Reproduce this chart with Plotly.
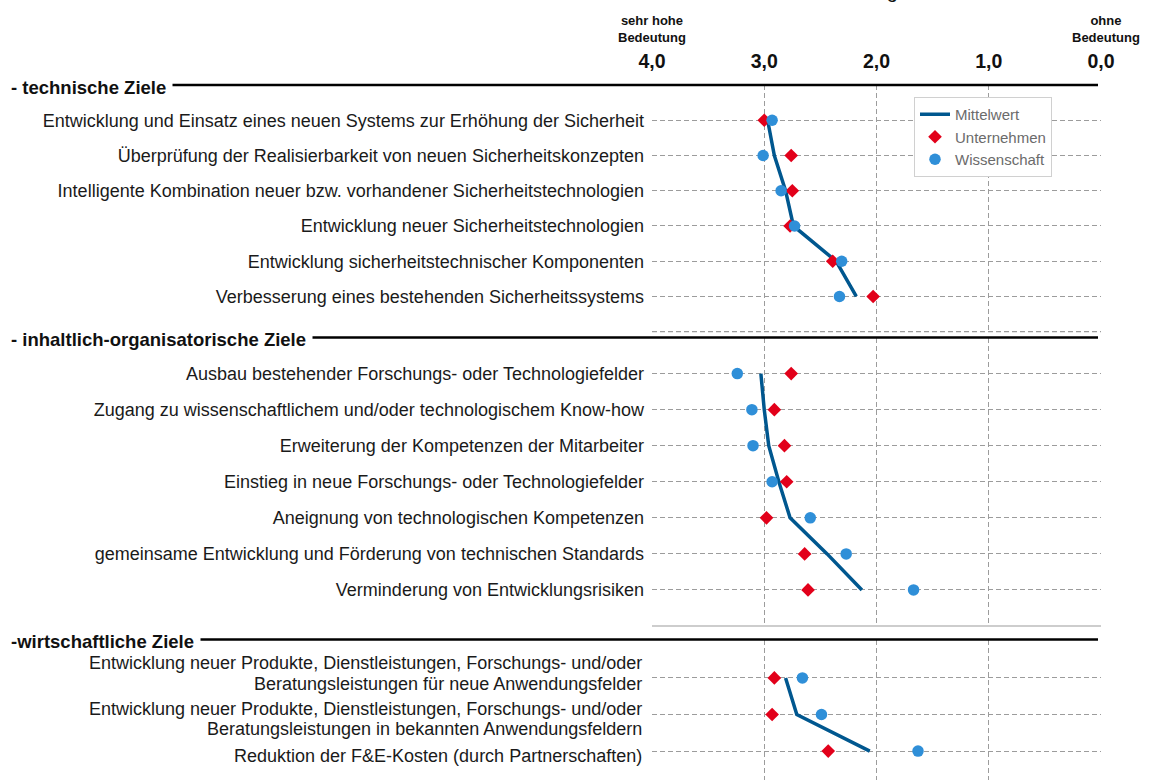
import plotly.graph_objects as go

W, H = 1149, 780
FONT = "Arial, 'Liberation Sans', sans-serif"

# ---------------- data ----------------
tech_labels = [
    "Entwicklung und Einsatz eines neuen Systems zur Erhöhung der Sicherheit",
    "Überprüfung der Realisierbarkeit von neuen Sicherheitskonzepten",
    "Intelligente Kombination neuer bzw. vorhandener Sicherheitstechnologien",
    "Entwicklung neuer Sicherheitstechnologien",
    "Entwicklung sicherheitstechnischer Komponenten",
    "Verbesserung eines bestehenden Sicherheitssystems",
]
tech_mittel = [2.97, 2.91, 2.81, 2.74, 2.36, 2.18]
tech_unternehmen = [3.00, 2.76, 2.75, 2.77, 2.39, 2.03]
tech_wissenschaft = [2.93, 3.01, 2.85, 2.73, 2.31, 2.33]

org_labels = [
    "Ausbau bestehender Forschungs- oder Technologiefelder",
    "Zugang zu wissenschaftlichem und/oder technologischem Know-how",
    "Erweiterung der Kompetenzen der Mitarbeiter",
    "Einstieg in neue Forschungs- oder Technologiefelder",
    "Aneignung von technologischen Kompetenzen",
    "gemeinsame Entwicklung und Förderung von technischen Standards",
    "Verminderung von Entwicklungsrisiken",
]
org_mittel = [3.03, 3.00, 2.96, 2.87, 2.77, 2.44, 2.13]
org_unternehmen = [2.76, 2.91, 2.82, 2.80, 2.98, 2.64, 2.61]
org_wissenschaft = [3.24, 3.11, 3.10, 2.93, 2.59, 2.27, 1.67]

wirt_labels = [
    "Entwicklung neuer Produkte, Dienstleistungen, Forschungs- und/oder<br>Beratungsleistungen für neue Anwendungsfelder",
    "Entwicklung neuer Produkte, Dienstleistungen, Forschungs- und/oder<br>Beratungsleistungen in bekannten Anwendungsfeldern",
    "Reduktion der F&E-Kosten (durch Partnerschaften)",
]
wirt_mittel = [2.81, 2.71, 2.06]
wirt_unternehmen = [2.91, 2.93, 2.43]
wirt_wissenschaft = [2.66, 2.49, 1.63]

section_titles = ["- technische Ziele", "- inhaltlich-organisatorische Ziele", "-wirtschaftliche Ziele"]

x_tickvals = [4, 3, 2, 1, 0]
x_ticktext = ["4,0", "3,0", "2,0", "1,0", "0,0"]

series_names = ["Mittelwert", "Unternehmen", "Wissenschaft"]

# ---------------- styling / layout helpers ----------------
C_MEAN = "#00578F"
C_UNT = "#E2001A"
C_WISS = "#2F8FD8"
GRID = "#9c9c9c"
DASH = "5px,3px"
LABEL_SIZE = 18
LABEL_COLOR = "#1a1a1a"


def px_x(p):
    return p / W


def px_y(p):
    return 1 - p / H


xdom = [px_x(652), px_x(1101)]
# (top px, bottom px, range top, range bottom)
sec_geom = [
    (85.0, 331.7, -1, 6),
    (337.5, 626.0, -1, 7),
    (639.5, 780.0, -1.05, 2.79),
]
# vertical offsets (px, downwards) of the text lines of the last block's labels
wirt_line_offsets = [(-14.5, 6.5), (-5.5, 14.5), (5.0,)]

sections = [
    (tech_labels, tech_mittel, tech_unternehmen, tech_wissenschaft),
    (org_labels, org_mittel, org_unternehmen, org_wissenschaft),
    (wirt_labels, wirt_mittel, wirt_unternehmen, wirt_wissenschaft),
]

fig = go.Figure()
for i, (labels, m, u, w) in enumerate(sections):
    xa = "x" if i == 0 else f"x{i+1}"
    ya = "y" if i == 0 else f"y{i+1}"
    fig.add_trace(go.Scatter(
        x=m, y=labels, mode="lines", name=series_names[0],
        showlegend=(i == 0), line=dict(color=C_MEAN, width=3.5),
        xaxis=xa, yaxis=ya))
    fig.add_trace(go.Scatter(
        x=u, y=labels, mode="markers", name=series_names[1],
        showlegend=(i == 0), marker=dict(symbol="diamond", size=10.5, color=C_UNT),
        xaxis=xa, yaxis=ya))
    fig.add_trace(go.Scatter(
        x=w, y=labels, mode="markers", name=series_names[2],
        showlegend=(i == 0), marker=dict(symbol="circle", size=11.5, color=C_WISS),
        xaxis=xa, yaxis=ya))

layout = dict(
    width=W, height=H,
    margin=dict(l=0, r=0, t=0, b=0),
    paper_bgcolor="white", plot_bgcolor="white",
    font=dict(family=FONT, color=LABEL_COLOR),
    showlegend=True,
    legend=dict(
        x=px_x(914), y=px_y(97), xanchor="left", yanchor="top",
        bgcolor="white", bordercolor="#d0d0d0", borderwidth=1,
        font=dict(family=FONT, size=15, color="#6b6b6b"),
        itemwidth=30, tracegroupgap=0, entrywidth=129,
    ),
)

for i, (labels, *_rest) in enumerate(sections):
    top, bot, r0, r1 = sec_geom[i]
    xk = "xaxis" if i == 0 else f"xaxis{i+1}"
    yk = "yaxis" if i == 0 else f"yaxis{i+1}"
    ya = "y" if i == 0 else f"y{i+1}"
    xa = "x" if i == 0 else f"x{i+1}"
    xax = dict(
        domain=xdom, anchor=ya, range=[4, 0],
        tickvals=x_tickvals, ticktext=x_ticktext,
        showgrid=True, gridcolor=GRID, griddash=DASH, gridwidth=1.2,
        zeroline=False, showline=False, ticks="", automargin=False,
        fixedrange=True,
    )
    if i == 0:
        xax.update(side="top", showticklabels=True,
                   tickfont=dict(family=FONT, size=19.5, color="#111111", weight="bold"),
                   ticklabelstandoff=12)
    else:
        xax.update(showticklabels=False)
    layout[xk] = xax
    layout[yk] = dict(
        domain=[px_y(bot), px_y(top)], anchor=xa,
        type="category", categoryorder="array", categoryarray=labels,
        range=[r1, r0],
        showgrid=True, gridcolor=GRID, griddash=DASH, gridwidth=1.2,
        zeroline=False, showline=False, ticks="", automargin=False,
        tickfont=dict(family=FONT, size=LABEL_SIZE, color=LABEL_COLOR),
        ticklabelstandoff=7, fixedrange=True,
        showticklabels=(i < 2),
    )

fig.update_layout(**layout)

shapes = []
# section header lines
for top, _b, _r0, _r1 in sec_geom:
    shapes.append(dict(type="line", xref="paper", yref="paper",
                       x0=px_x(12), x1=px_x(1098), y0=px_y(top), y1=px_y(top),
                       line=dict(color="black", width=2.5)))
# bottom borders of the boxes
shapes.append(dict(type="line", xref="paper", yref="paper",
                   x0=xdom[0], x1=xdom[1], y0=px_y(331.7), y1=px_y(331.7),
                   line=dict(color=GRID, width=1.2, dash=DASH)))
shapes.append(dict(type="line", xref="paper", yref="paper",
                   x0=xdom[0], x1=xdom[1], y0=px_y(626), y1=px_y(626),
                   line=dict(color=GRID, width=1.2)))
fig.update_layout(shapes=shapes)

annotations = []
for title, (top, _b, _r0, _r1) in zip(section_titles, sec_geom):
    annotations.append(dict(
        text=title + "&nbsp;", xref="paper", yref="paper",
        x=px_x(9), y=px_y(top + 2), xanchor="left", yanchor="middle",
        showarrow=False, bgcolor="white", borderpad=1,
        font=dict(family=FONT, size=18.5, color="#111111", weight="bold")))

# labels of the last block, one text line at a time (tighter line spacing)
for idx, (label, offs) in enumerate(zip(wirt_labels, wirt_line_offsets)):
    for line, off in zip(label.split("<br>"), offs):
        annotations.append(dict(
            text=line, xref="paper", yref="y3",
            x=px_x(644), y=idx, xanchor="right", yanchor="middle",
            yshift=-off, showarrow=False,
            font=dict(family=FONT, size=LABEL_SIZE, color=LABEL_COLOR)))

annotations.append(dict(
    text="sehr hohe<br>Bedeutung", xref="paper", yref="paper",
    x=px_x(652), y=px_y(29), xanchor="center", yanchor="middle",
    showarrow=False, font=dict(family=FONT, size=13, color="#111111", weight="bold")))
annotations.append(dict(
    text="ohne<br>Bedeutung", xref="paper", yref="paper",
    x=px_x(1106), y=px_y(29), xanchor="center", yanchor="middle",
    showarrow=False, font=dict(family=FONT, size=13, color="#111111", weight="bold")))
# cut-off title (only the descender is visible at the top edge)
annotations.append(dict(
    text="Bedeutung", xref="paper", yref="paper",
    x=px_x(900), y=px_y(4), xanchor="right", yanchor="bottom",
    showarrow=False, font=dict(family=FONT, size=20, color="#111111")))
fig.update_layout(annotations=annotations)

fig.write_html("out.html", config={"displayModeBar": False},
               post_script="document.body.style.margin='0';")
